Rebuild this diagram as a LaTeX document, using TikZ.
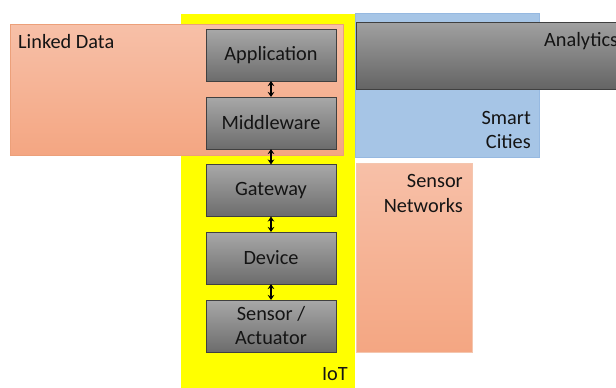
\documentclass[tikz,border=0pt]{standalone}
\usepackage{fontspec}
\setmainfont{Carlito}
\usetikzlibrary{arrows.meta}
\definecolor{iotyellow}{RGB}{255,255,0}
\definecolor{scblue}{RGB}{166,197,230}
\definecolor{scedge}{RGB}{150,185,225}
\definecolor{salmontop}{RGB}{247,192,168}
\definecolor{salmonbot}{RGB}{244,166,130}
\definecolor{salmonedge}{RGB}{236,160,122}
\definecolor{graytop}{RGB}{168,168,168}
\definecolor{graybot}{RGB}{108,108,108}
\definecolor{anatop}{RGB}{160,160,160}
\definecolor{anabot}{RGB}{100,100,100}
\definecolor{grayedge}{RGB}{64,64,64}
\begin{document}
\begin{tikzpicture}[x=1pt,y=-1pt,
  font=\fontsize{20.3}{24}\selectfont,
  area/.style={anchor=north west, inner sep=0pt, outer sep=0pt},
  layer/.style={anchor=north west, inner sep=0pt, outer sep=0pt,
    minimum width=130pt, minimum height=52pt,
    top color=graytop, bottom color=graybot, draw=grayedge, line width=0.8pt,
    text=black!92},
  lbl/.style={inner sep=0pt, text=black!92},
  link/.style={{Stealth[length=5pt,width=6.5pt]}-{Stealth[length=5pt,width=6.5pt]}, line width=1.6pt, black}]
\useasboundingbox (0,0) rectangle (616,388);
% background areas
\node[area, fill=iotyellow, minimum width=174pt, minimum height=378pt] (iot) at (181,14) {};
\node[area, fill=scblue, draw=scedge, line width=0.5pt, minimum width=184pt, minimum height=143.5pt] (sc) at (355,13.5) {};
\node[area, top color=salmontop, bottom color=salmonbot, draw=salmonedge, line width=0.6pt, minimum width=333pt, minimum height=131pt] (ld) at (10,24) {};
\node[area, top color=anatop, bottom color=anabot, draw=grayedge, line width=0.6pt, minimum width=270pt, minimum height=66.5pt] (ana) at (356,22.5) {};
\node[area, top color=salmontop, bottom color=salmonbot, draw=salmonedge!60!white, line width=0.5pt, minimum width=116pt, minimum height=189pt] (sn) at (356,163) {};
% labels
\node[lbl, anchor=base west] (ldl) at (18,48.3) {Linked Data};
\node[lbl, anchor=base west] (anal) at (544,46.7) {Analytics};
\node[lbl, anchor=base east] (scl1) at (531,124) {Smart};
\node[lbl, anchor=base east] (scl2) at (531,148.3) {Cities};
\node[lbl, anchor=base east] (snl1) at (463,187.3) {Sensor};
\node[lbl, anchor=base east] (snl2) at (463,212.3) {Networks};
\node[lbl, anchor=base east] (iotl) at (348,380) {IoT};
% stack
\node[layer] (app) at (206,29) {Application};
\node[layer] (mid) at (206,97) {Middleware};
\node[layer] (gw) at (206,164.5) {Gateway};
\node[layer] (dev) at (206,232) {Device};
\node[layer, align=center] (sens) at (206,300) {Sensor /\\Actuator};
% links
\draw[link] (app.south) -- (mid.north);
\draw[link] (mid.south) -- (gw.north);
\draw[link] (gw.south) -- (dev.north);
\draw[link] (dev.south) -- (sens.north);
\end{tikzpicture}
\end{document}
